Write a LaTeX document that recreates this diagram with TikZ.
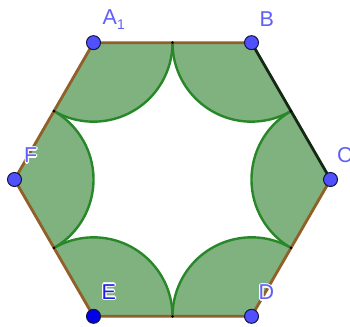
\documentclass[tikz,border=0pt]{standalone}
\usepackage{fontspec}
\setmainfont{Liberation Sans}
\usetikzlibrary{calc}
\definecolor{secfill}{RGB}{127,178,127}
\definecolor{arcgreen}{RGB}{40,135,40}
\definecolor{edgebrown}{RGB}{145,95,40}
\definecolor{edgedark}{RGB}{20,40,20}
\definecolor{ptblue}{RGB}{80,80,255}
\definecolor{ptdark}{RGB}{0,0,235}
\definecolor{ptline}{RGB}{20,20,70}
\definecolor{lblblue}{RGB}{95,95,250}
\definecolor{lbldark}{RGB}{30,30,235}
\newcommand\haloed[4]{% style, position, name, text
  \foreach \dx/\dy in {1.2/0,-1.2/0,0/1.2,0/-1.2,0.85/0.85,-0.85/0.85,0.85/-0.85,-0.85/-0.85}
    \node[lbl,text=white] at ([shift={(\dx,\dy)}]#2) {#4};
  \node[lbl,#1] (#3) at (#2) {#4};}
\begin{document}
\begin{tikzpicture}[x=1pt,y=1pt,
  sector/.style={fill=secfill},
  arcline/.style={draw=arcgreen,line width=2.4pt},
  edge/.style={draw=edgebrown,line width=2.8pt},
  edgeBC/.style={draw=edgedark,line width=2.8pt},
  mid/.style={circle,fill=black,inner sep=0pt,minimum size=3pt},
  pt/.style={circle,fill=ptblue,draw=ptline,line width=1pt,inner sep=0pt,minimum size=14pt},
  ptE/.style={circle,fill=ptdark,draw=ptline,line width=1pt,inner sep=0pt,minimum size=14pt},
  lbl/.style={anchor=base west,inner sep=0pt,font=\fontsize{21.5}{24}\selectfont,text=lblblue}]
\useasboundingbox (0,0) rectangle (350,326);
\coordinate (O) at (172.5,146.5);
\foreach \n/\a in {C/0,B/60,A/120,F/180,E/240,D/300}
  \path (O) ++(\a:158) coordinate (\n);
\coordinate (mAB) at ($(A)!0.5!(B)$);
\coordinate (mBC) at ($(B)!0.5!(C)$);
\coordinate (mCD) at ($(C)!0.5!(D)$);
\coordinate (mDE) at ($(D)!0.5!(E)$);
\coordinate (mEF) at ($(E)!0.5!(F)$);
\coordinate (mFA) at ($(F)!0.5!(A)$);
% sectors
\foreach \n/\a in {C/0,B/60,A/120,F/180,E/240,D/300}
  \fill[sector] (\n) -- ++({\a+120}:79) arc[start angle={\a+120}, end angle={\a+240}, radius=79] -- cycle;
\foreach \n/\a in {C/0,B/60,A/120,F/180,E/240,D/300}
  \draw[arcline] (\n) ++({\a+120}:79) arc[start angle={\a+120}, end angle={\a+240}, radius=79];
% edges
\draw[edge,line join=round] (C) -- (D) -- (E) -- (F) -- (A) -- (B);
\draw[edgeBC] (B) -- (C);
% midpoints
\foreach \m in {mAB,mBC,mCD,mDE,mEF,mFA}
  \node[mid] (d\m) at (\m) {};
% vertices
\node[pt] (pA) at (A) {};
\node[pt] (pB) at (B) {};
\node[pt] (pC) at (C) {};
\node[pt] (pD) at (D) {};
\node[ptE] (pE) at (E) {};
\node[pt] (pF) at (F) {};
% labels
\haloed{}{102.5,301}{lA}{A\raisebox{-5pt}{\fontsize{14}{14}\selectfont 1}}
\haloed{}{259.5,299}{lB}{B}
\haloed{}{337,163}{lC}{C}
\haloed{}{24,163}{lF}{F}
\haloed{text=lbldark}{101.5,27}{lE}{E}
\haloed{}{258.5,26}{lD}{D}
\end{tikzpicture}
\end{document}
